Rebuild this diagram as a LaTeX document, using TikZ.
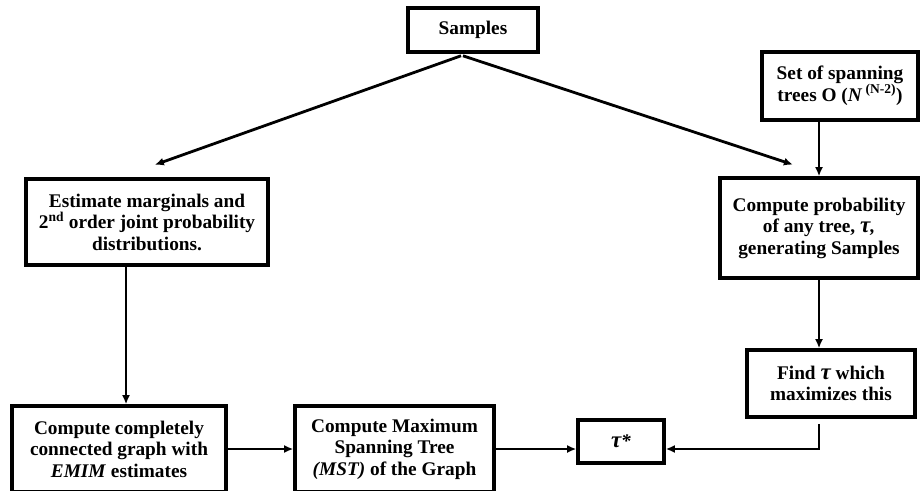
\documentclass[tikz,border=0pt]{standalone}
\usepackage{fontspec}
\setmainfont{Liberation Serif}
\usepackage{tikz}
\usetikzlibrary{arrows.meta,calc}

\newcommand{\tautxt}{{\fontsize{23}{21}\selectfont\itshape τ}}

\begin{document}
\begin{tikzpicture}[
    x=1pt, y=-1pt,
    box/.style={draw, line width=3.6pt, align=center, inner sep=0pt, font=\fontsize{19.3}{21.5}\selectfont\bfseries},
    arrow/.style={-{Latex[length=9pt, width=8pt]}, line width=2.8pt},
]
\useasboundingbox (0,0) rectangle (920,490);

\node[box, minimum width=130, minimum height=44] (samp) at (473,30) {Samples};
\node[box, minimum width=156, minimum height=68] (set) at (840,86) {Set of spanning\\trees O (\textit{N}\,\textsuperscript{(N-2)})};
\node[box, minimum width=242, minimum height=86] (est) at (147,222) {Estimate marginals and\\2\textsuperscript{nd} order joint probability\\distributions.};
\node[box, minimum width=198, minimum height=100] (prob) at (819,228) {Compute probability\\of any tree, \tautxt\textit{,}\\generating Samples};
\node[box, minimum width=168, minimum height=67] (find) at (831,383.5) {Find \tautxt{} which\\maximizes this};
\node[box, minimum width=86, minimum height=43] (tau) at (621,441.5) {\tautxt\textit{*}};
\node[box, minimum width=214, minimum height=86] (cc) at (119,449) {Compute completely\\connected graph with\\\textit{EMIM} estimates};
\node[box, minimum width=199, minimum height=86] (mst) at (394.5,449) {Compute Maximum\\Spanning Tree\\\textit{(MST)} of the Graph};

\draw[arrow, shorten >=37pt] ($(samp.south)+(-12,2)$) -- ($(est.north)+(-27,0)$);
\draw[arrow, shorten >=37pt] ($(samp.south)+(-10,2)$) -- ($(prob.north)+(9,0)$);
\draw[arrow] (set.south -| prob.north) -- (prob.north);
\draw[arrow] (prob.south) -- (prob.south |- find.north);
\draw[arrow] ($(est.south)+(-21,0)$) -- ($(cc.north)+(7,0)$);
\draw[arrow] (cc.east) -- (mst.west);
\draw[arrow] (mst.east) -- (mst.east -| tau.west);
\draw[arrow] ($(find.south -| prob.south)+(0,5)$) |- (mst.east -| tau.east);

\end{tikzpicture}
\end{document}
